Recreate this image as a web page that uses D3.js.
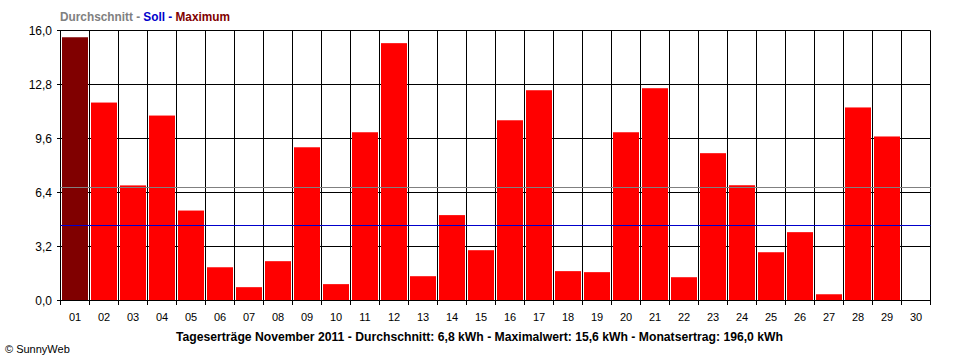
<!DOCTYPE html>
<html>
<head>
<meta charset="utf-8">
<script src="https://cdn.jsdelivr.net/npm/d3@7"></script>
<style>
  html, body { margin: 0; padding: 0; background: #fff; }
  svg { display: block; }
  text { font-family: "Liberation Sans", Arial, sans-serif; }
</style>
</head>
<body>
<svg id="chart" width="960" height="360"></svg>
<script>
const days = ["01","02","03","04","05","06","07","08","09","10","11","12","13","14","15",
              "16","17","18","19","20","21","22","23","24","25","26","27","28","29","30"];
const yields = [15.6, 11.73, 6.82, 10.96, 5.33, 1.97, 0.79, 2.33, 9.08, 0.97, 9.97, 15.25, 1.44, 5.06, 2.98,
                10.68, 12.46, 1.74, 1.68, 9.97, 12.58, 1.38, 8.73, 6.83, 2.86, 4.05, 0.37, 11.44, 9.72, 0];
const yTicks = [0, 3.2, 6.4, 9.6, 12.8, 16.0];
const averageValue = 6.7;
const targetValue = 4.45;
const maxValue = 15.6;
const legendParts = [
  {text: "Durchschnitt - ", color: "#808080"},
  {text: "Soll - ", color: "#0000cc"},
  {text: "Maximum", color: "#800000"}
];
const titleText = "Tageserträge November 2011 - Durchschnitt: 6,8 kWh - Maximalwert: 15,6 kWh - Monatsertrag: 196,0 kWh";
const copyrightText = "© SunnyWeb";

const svg = d3.select("#chart");
const x = d3.scaleBand().domain(days).range([60.5, 930.5]).padding(0);
const y = d3.scaleLinear().domain([0, 16]).range([300.5, 30.5]);

// horizontal grid lines (behind bars)
svg.append("g").selectAll("line").data(yTicks).join("line")
  .attr("x1", 57).attr("x2", 930.5)
  .attr("y1", d => y(d)).attr("y2", d => y(d))
  .attr("stroke", "#000").attr("stroke-width", 1);

// vertical boundary lines
const bounds = days.map(d => x(d)).concat([x(days[days.length-1]) + x.bandwidth()]);
svg.append("g").selectAll("line").data(bounds).join("line")
  .attr("x1", d => d).attr("x2", d => d)
  .attr("y1", y(16)).attr("y2", 305)
  .attr("stroke", "#000").attr("stroke-width", 1);

// bars
svg.append("g").selectAll("rect").data(days.map((d, i) => ({d, v: yields[i]})).filter(e => e.v > 0)).join("rect")
  .attr("x", e => x(e.d) + 1.5)
  .attr("width", x.bandwidth() - 3)
  .attr("y", e => y(e.v))
  .attr("height", e => y(0) - y(e.v) - 0.5)
  .attr("fill", e => e.v === maxValue ? "#800000" : "#ff0000");

// average and target lines
svg.append("line")
  .attr("x1", 60.5).attr("x2", 930.5)
  .attr("y1", Math.round(y(averageValue)) + 0.5).attr("y2", Math.round(y(averageValue)) + 0.5)
  .attr("stroke", "#808080").attr("stroke-width", 1);
svg.append("line")
  .attr("x1", 60.5).attr("x2", 930.5)
  .attr("y1", Math.round(y(targetValue)) + 0.5).attr("y2", Math.round(y(targetValue)) + 0.5)
  .attr("stroke", "#0000cc").attr("stroke-width", 1);

// y axis labels
svg.append("g").selectAll("text").data(yTicks).join("text")
  .attr("x", 52).attr("y", d => y(d) + 4)
  .attr("text-anchor", "end")
  .attr("font-size", "12px").attr("fill", "#000")
  .text(d => d.toFixed(1).replace(".", ","));

// x axis labels
svg.append("g").selectAll("text").data(days).join("text")
  .attr("x", d => x(d) + x.bandwidth() / 2).attr("y", 321)
  .attr("text-anchor", "middle")
  .attr("font-size", "11px").attr("fill", "#000")
  .text(d => d);

// legend
const legend = svg.append("text").attr("x", 60).attr("y", 21)
  .attr("font-size", "12px").attr("font-weight", "bold")
  .attr("textLength", 170).attr("lengthAdjust", "spacingAndGlyphs");
legend.selectAll("tspan").data(legendParts).join("tspan")
  .attr("fill", d => d.color)
  .style("white-space", "pre")
  .text(d => d.text);

// title
svg.append("text").attr("x", 176).attr("y", 341)
  .attr("font-size", "12px").attr("font-weight", "bold").attr("fill", "#000")
  .attr("textLength", 607).attr("lengthAdjust", "spacingAndGlyphs")
  .text(titleText);

// copyright
svg.append("text").attr("x", 5).attr("y", 353)
  .attr("font-size", "11px").attr("fill", "#000")
  .text(copyrightText);
</script>
</body>
</html>
